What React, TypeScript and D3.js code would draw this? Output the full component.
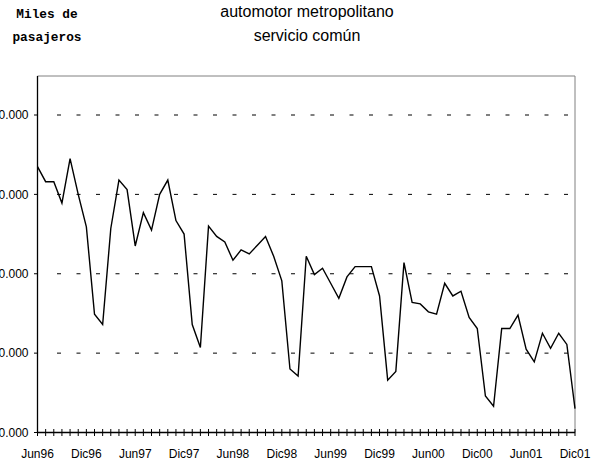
import React from "react";
import * as d3 from "d3";

const W = 592;
const H = 461;

const months = [
  "Jun96","Jul96","Ago96","Sep96","Oct96","Nov96","Dic96",
  "Ene97","Feb97","Mar97","Abr97","May97","Jun97","Jul97","Ago97","Sep97","Oct97","Nov97","Dic97",
  "Ene98","Feb98","Mar98","Abr98","May98","Jun98","Jul98","Ago98","Sep98","Oct98","Nov98","Dic98",
  "Ene99","Feb99","Mar99","Abr99","May99","Jun99","Jul99","Ago99","Sep99","Oct99","Nov99","Dic99",
  "Ene00","Feb00","Mar00","Abr00","May00","Jun00","Jul00","Ago00","Sep00","Oct00","Nov00","Dic00",
  "Ene01","Feb01","Mar01","Abr01","May01","Jun01","Jul01","Ago01","Sep01","Oct01","Nov01","Dic01",
];

const pasajeros = [
  113500, 111600, 111600, 108900, 114500, 110000, 105900,
  94900, 93600, 105700, 111800, 110600, 103500, 107700, 105500, 110000, 111800, 106700, 105000,
  93600, 90700, 106000, 104700, 104000, 101700, 103000, 102500, 103600, 104700, 102200, 99100,
  88000, 87100, 102200, 99900, 100700, 98800, 96900, 99600, 100900, 100900, 100900, 97200,
  86600, 87700, 101400, 96400, 96200, 95200, 94900, 98800, 97200, 97800, 94500, 93100,
  84600, 83300, 93100, 93100, 94800, 90500, 88900, 92500, 90600, 92500, 91100, 83000,
];

const yTicks = [80000, 90000, 100000, 110000, 120000];
const xLabels = ["Jun96","Dic96","Jun97","Dic97","Jun98","Dic98","Jun99","Dic99","Jun00","Dic00","Jun01","Dic01"];

const locale = d3.formatLocale({ decimal: ",", thousands: ".", grouping: [3], currency: ["$", ""] });
const fmt = locale.format(",.0f");

export default function App() {
  const left = 37.5, right = 575, top = 76, bottom = 432.5;
  const x = d3.scalePoint<string>().domain(months).range([left, right]);
  const y = d3.scaleLinear().domain([80000, 120000]).range([bottom, 115]);
  const line = d3.line<number>().x((_, i) => x(months[i])!).y((d) => y(d));
  const font = "'Liberation Sans', Arial, sans-serif";

  return (
    <div style={{ position: "absolute", left: 0, top: 0 }}>
      <svg width={W} height={H} style={{ display: "block", background: "#fff" }}>
        <text x={47} y={18} fontFamily="'Liberation Mono', 'Courier New', monospace" fontWeight="bold" fontSize={12.8} textAnchor="middle">Miles de</text>
        <text x={47} y={41} fontFamily="'Liberation Mono', 'Courier New', monospace" fontWeight="bold" fontSize={12.8} textAnchor="middle">pasajeros</text>
        <text x={307} y={17} fontFamily={font} fontSize={16} textAnchor="middle">automotor metropolitano</text>
        <text x={307} y={41} fontFamily={font} fontSize={16} textAnchor="middle">servicio común</text>

        {/* frame top & right */}
        <line x1={left} x2={right} y1={top} y2={top} stroke="#808080" strokeWidth={1} />
        <line x1={right} x2={right} y1={top} y2={bottom} stroke="#808080" strokeWidth={1} />

        {/* gridlines */}
        {yTicks.slice(1).map((t) => (
          <line key={t} x1={left + 19.5} x2={right} y1={y(t)} y2={y(t)} stroke="#000" strokeWidth={1} strokeDasharray="4 15.5" />
        ))}

        {/* y axis */}
        <line x1={left} x2={left} y1={top} y2={bottom} stroke="#000" strokeWidth={1.3} />
        {yTicks.map((t) => (
          <g key={t}>
            <line x1={left - 3.5} x2={left} y1={y(t)} y2={y(t)} stroke="#000" strokeWidth={1} />
            <text x={28.5} y={y(t)} dy="0.35em" fontFamily={font} fontSize={12} textAnchor="end">{fmt(t)}</text>
          </g>
        ))}

        {/* x axis */}
        <line x1={left} x2={right} y1={bottom} y2={bottom} stroke="#000" strokeWidth={1.3} />
        {months.map((m) => (
          <line key={m} x1={x(m)} x2={x(m)} y1={bottom - 3.5} y2={bottom + 3.5} stroke="#000" strokeWidth={1} />
        ))}
        {xLabels.map((m, i) => (
          <text key={m} x={i === xLabels.length - 1 ? Math.min(x(m)!, W - 16) : x(m)} y={458} fontFamily={font} fontSize={12} textAnchor="middle">{m}</text>
        ))}

        <path d={line(pasajeros) ?? ""} fill="none" stroke="#000" strokeWidth={1.4} strokeLinejoin="miter" />
      </svg>
    </div>
  );
}
